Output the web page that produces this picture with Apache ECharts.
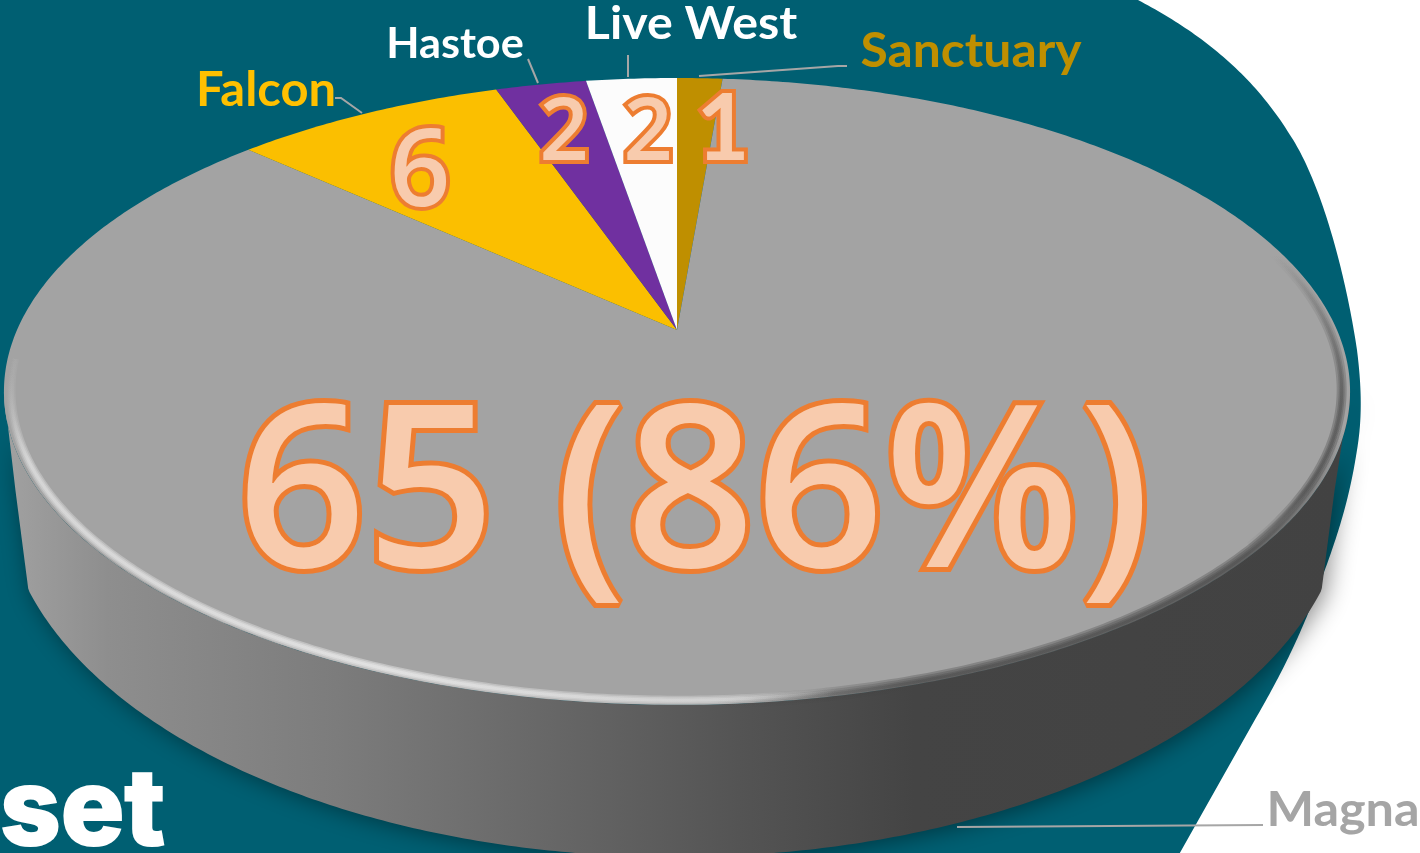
<!DOCTYPE html>
<html>
<head>
<meta charset="utf-8">
<title>Stock by landlord</title>
<style>
  html, body { margin: 0; padding: 0; background: #fff; }
  #main { width: 1420px; height: 853px; }
</style>
<script src="https://cdn.jsdelivr.net/npm/echarts@6/dist/echarts.min.js"></script>
</head>
<body>
<div id="main"></div>
<script>
// slices, clockwise from 12 o'clock
const names = ['Sanctuary', 'Magna', 'Falcon', 'Hastoe', 'Live West'];
const values = [1, 65, 6, 2, 2];

const sliceColors = ['#bf8f00', '#a3a3a3', '#fbbf00', '#7030a0', '#fcfcfc'];
const nameColors = ['#bf8f00', '#a5a5a5', '#ffc000', '#ffffff', '#ffffff'];

// label placement, same order as names
const namePos = [[971, 52], [1343, 811], [266, 91], [455, 44], [691, 24]];
const nameSize = [47, 48, 47, 42, 46];
const nameStretch = [1.06, 1.05, 1.04, 1.03, 1.05];
const valuePos = [[723, 130], [694, 503], [420, 176], [564, 135], [648, 135]];
const valueSize = [92, 226, 106, 86, 86];
const valueFont = ['bold {s}px Lato', '600 {s}px "Open Sans"', '600 {s}px "Open Sans"', '600 {s}px "Open Sans"', '600 {s}px "Open Sans"'];
const leaders = [
	[[847, 66], [838, 66], [699, 76]],
	[[1263, 825], [957, 827]],
	[[335, 98], [341, 98], [362, 113]],
	[[528, 59], [538, 83]],
	[[628, 55], [628, 77]]
];

const total = values.reduce((a, b) => a + b, 0);
const TAU = Math.PI * 2;

// tilted disc: a unit circle seen in perspective, apex is not the ellipse centre
const disc = { cx: 677, cy: 330, t: 660, s: 301.4, k: 0.196 };
function project(a, r) {
	const X = Math.sin(a) * r;
	const Y = -Math.cos(a) * r;
	const w = 1 - disc.k * Y;
	return [disc.cx + disc.t * X / w, disc.cy + disc.s * Y / w];
}
function arc(a0, a1, r) {
	const n = Math.max(2, Math.ceil(Math.abs(a1 - a0) / 0.01));
	const pts = [];
	for (let i = 0; i <= n; i++) pts.push(project(a0 + (a1 - a0) * i / n, r));
	return pts;
}

// lower edge of the wall, joined to the rim at its widest points
function wallPoints() {
	const cx = 675, cy = 490, rx = 672, ry = 367;
	const right = Math.PI * 0.563, left = Math.PI * 1.437;
	const out = [project(right, 1)];
	for (let a = 0; a <= Math.PI; a += 0.01) {
		const y = cy + ry * Math.sin(a);
		const lim = 670 - 0.13 * (y - 410);
		const dx = Math.max(-lim, Math.min(lim, rx * Math.cos(a)));
		out.push([cx + dx, y]);
	}
	out.push(project(left, 1));
	return out.concat(arc(left, right, 1));
}

// teal backdrop, sampled from its right hand curve
const backdropCurve = [
	[[1138, 0], [1195, 30], [1250, 70], [1290, 135]],
	[[1290, 135], [1320, 180], [1345, 270], [1357, 350]],
	[[1357, 350], [1362, 390], [1362, 420], [1357, 450]],
	[[1357, 450], [1350, 495], [1340, 530], [1320, 583]],
	[[1320, 583], [1306, 620], [1290, 660], [1253, 723]]
];
function backdropPoints() {
	const pts = [[-5, -5], [1135, -5]];
	backdropCurve.forEach(c => {
		for (let t = 0; t <= 1; t += 0.02) {
			const u = 1 - t;
			pts.push([0, 1].map(d => u * u * u * c[0][d] + 3 * u * u * t * c[1][d] + 3 * u * t * t * c[2][d] + t * t * t * c[3][d]));
		}
	});
	pts.push([1177, 858], [-5, 858]);
	return pts;
}

const LG = echarts.graphic.LinearGradient;

function renderWall() {
	return {
		type: 'group',
		children: [{
			type: 'polygon',
			shape: { points: wallPoints() },
			style: {
				fill: new LG(0, 0, 1345, 0, [
					{ offset: 0, color: '#a2a2a2' },
					{ offset: 0.08, color: '#8e8e8e' },
					{ offset: 0.25, color: '#7c7c7c' },
					{ offset: 0.4, color: '#686868' },
					{ offset: 0.55, color: '#545454' },
					{ offset: 0.68, color: '#444444' },
					{ offset: 1, color: '#424242' }
				], true),
				shadowColor: 'rgba(0,0,0,0.45)',
				shadowBlur: 24,
				shadowOffsetX: 4,
				shadowOffsetY: 2
			}
		}]
	};
}

function renderSlice(params, api) {
	const i = params.dataIndex;
	let before = 0;
	for (let j = 0; j < i; j++) before += values[j];
	const v = api.value(0);
	const a0 = before / total * TAU;
	const a1 = (before + v) / total * TAU;
	return {
		type: 'polygon',
		shape: { points: [project(0, 0)].concat(arc(a0, a1, 1)) },
		style: { fill: sliceColors[i] }
	};
}

// soft rim: stacked strokes stand in for the blur of the bevel
function softStroke(points, widths, rgb, alpha, x, y, x2, y2, stops) {
	return widths.map(w => ({
		type: 'polyline',
		shape: { points: points },
		style: {
			fill: 'none',
			lineWidth: w,
			stroke: new LG(x, y, x2, y2, stops.map(s => ({
				offset: s[0],
				color: 'rgba(' + rgb + ',' + (s[1] * alpha) + ')'
			})), true)
		}
	}));
}

function renderBevel() {
	const darkTop = softStroke(arc(Math.PI * 0.36, Math.PI * 0.72, 0.988), [10, 6, 3], '68,68,68', 0.32,
		0, 255, 0, 550, [[0, 0], [0.5, 1], [0.8, 1], [1, 0]]);
	const dark = softStroke(arc(Math.PI * 0.6, Math.PI * 1.02, 0.995), [14, 10, 6, 3], '68,68,68', 0.32,
		1340, 420, 700, 700, [[0, 0], [0.2, 1], [0.7, 1], [0.98, 0]]);
	const light = softStroke(arc(Math.PI * 0.88, Math.PI * 1.47, 0.99), [9, 6, 3], '240,240,240', 0.42,
		0, 400, 850, 640, [[0, 0], [0.05, 0.7], [0.5, 1], [0.9, 0.6], [1, 0]]);
	return { type: 'group', children: darkTop.concat(dark, light) };
}

function renderLabels(params, api) {
	const i = params.dataIndex;
	const v = api.value(0);
	const big = v > total / 2;
	const text = big ? v + ' (' + Math.round(v / total * 100) + '%)' : String(v);
	return {
		type: 'group',
		children: [{
			type: 'polyline',
			shape: { points: leaders[i] },
			style: { fill: 'none', stroke: '#a6a6a6', lineWidth: 2 }
		}, {
			type: 'text',
			x: namePos[i][0], y: namePos[i][1],
			scaleX: nameStretch[i],
			style: {
				text: names[i],
				fill: nameColors[i],
				font: 'bold ' + nameSize[i] + 'px Lato',
				align: 'center', verticalAlign: 'middle'
			}
		}, {
			type: 'text',
			style: {
				x: valuePos[i][0], y: valuePos[i][1],
				text: text,
				fill: '#f8cbad',
				stroke: '#ed7d31',
				lineWidth: big ? 10 : 8,
				lineJoin: 'round',
				font: valueFont[i].replace('{s}', valueSize[i]),
				align: 'center', verticalAlign: 'middle'
			}
		}]
	};
}

const seriesData = values.map((v, i) => ({ name: names[i], value: [v] }));

const myChart = echarts.init(document.querySelector('#main'), null, { renderer: 'canvas' });
myChart.setOption({
	animation: false,
	backgroundColor: '#fff',
	graphic: [{
		type: 'polygon',
		z: 0,
		shape: { points: backdropPoints() },
		style: { fill: '#005f72' }
	}, {
		type: 'text',
		z: 0,
		x: 0,
		y: 760,
		style: {
			text: 'set',
			fill: '#fff',
			stroke: '#fff',
			lineWidth: 2,
			font: '800 106px Inter'
		}
	}],
	series: [
		{ type: 'custom', coordinateSystem: 'none', z: 1, silent: true, data: [[0]], renderItem: renderWall },
		{ type: 'custom', coordinateSystem: 'none', z: 2, silent: true, data: seriesData, renderItem: renderSlice },
		{ type: 'custom', coordinateSystem: 'none', z: 3, silent: true, data: [[0]], renderItem: renderBevel },
		{ type: 'custom', coordinateSystem: 'none', z: 4, silent: true, data: seriesData, renderItem: renderLabels }
	]
});
</script>
</body>
</html>
